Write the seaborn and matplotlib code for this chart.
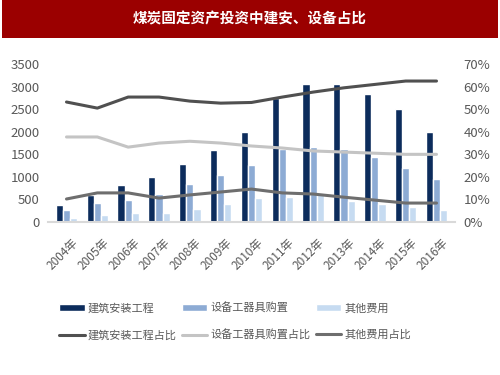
import matplotlib
matplotlib.use("Agg")
import matplotlib.pyplot as plt
from matplotlib.patches import Rectangle
from matplotlib.lines import Line2D
from matplotlib.ticker import FuncFormatter
from matplotlib.transforms import ScaledTranslation
import pandas as pd
import seaborn as sns

years = ["2004年", "2005年", "2006年", "2007年", "2008年", "2009年", "2010年",
         "2011年", "2012年", "2013年", "2014年", "2015年", "2016年"]
build = [370, 600, 810, 1000, 1280, 1600, 2000, 2750, 3050, 3070, 2830, 2500, 2000]
equip = [260, 430, 480, 630, 850, 1050, 1260, 1620, 1660, 1610, 1430, 1200, 960]
other = [80, 160, 190, 190, 280, 400, 540, 550, 630, 470, 410, 330, 260]
build_pct = [53.2, 50.5, 55.4, 55.4, 53.6, 52.7, 53.0, 55.4, 57.6, 59.5, 61.0, 62.5, 62.5]
equip_pct = [37.7, 37.7, 33.2, 35.0, 35.8, 35.0, 33.7, 32.8, 31.5, 31.0, 30.5, 30.0, 30.0]
other_pct = [10.2, 12.9, 12.9, 10.6, 12.0, 13.3, 14.6, 12.9, 12.4, 11.0, 9.7, 8.4, 8.4]

bar_names = ["建筑安装工程", "设备工器具购置", "其他费用"]
line_names = ["建筑安装工程占比", "设备工器具购置占比", "其他费用占比"]
bar_colors = ["#0c2c5c", "#8dabd4", "#c6dbf1"]
line_colors = ["#505050", "#c4c4c4", "#6e6e6e"]

sns.set_theme(style="white")
plt.rcParams["font.family"] = ["Noto Sans CJK SC", "DejaVu Sans"]

bars = pd.DataFrame({"year": years * 3,
                     "value": build + equip + other,
                     "kind": [n for n in bar_names for _ in years]})
lines = pd.DataFrame({"year": years * 3,
                      "pct": build_pct + equip_pct + other_pct,
                      "kind": [n for n in line_names for _ in years]})

fig = plt.figure(figsize=(5, 3.75), dpi=100)
fig.patches.append(Rectangle((0.004, 0.898), 0.992, 0.102, transform=fig.transFigure,
                             facecolor="#9b0000", edgecolor="none"))
fig.text(0.5, 0.951, "煤炭固定资产投资中建安、设备占比", color="white",
         fontsize=10.5, fontweight="bold", ha="center", va="center")

ax = fig.add_axes([0.096, 0.408, 0.814, 0.421])
sns.barplot(data=bars, x="year", y="value", hue="kind", palette=bar_colors,
            width=0.7, ax=ax, legend=False, saturation=1)
ax.set_ylim(0, 3500)
ax.set_yticks(range(0, 3501, 500))
ax.set_xlabel("")
ax.set_ylabel("")

ax2 = ax.twinx()
sns.lineplot(data=lines, x="year", y="pct", hue="kind", palette=line_colors,
             linewidth=2.2, ax=ax2, legend=False, sort=False)
ax2.set_ylim(0, 70)
ax2.set_yticks(range(0, 71, 10))
ax2.yaxis.set_major_formatter(FuncFormatter(lambda v, p: f"{int(v)}%"))
ax2.set_ylabel("")

for a in (ax, ax2):
    for s in a.spines.values():
        s.set_visible(False)
    a.tick_params(axis="y", length=0, labelsize=9.5, labelcolor="#595959", pad=6)
ax.spines["bottom"].set_visible(True)
ax.spines["bottom"].set_color("#d9d9d9")
ax.spines["bottom"].set_linewidth(1.5)
ax.tick_params(axis="x", length=0, labelsize=8.5, labelcolor="#595959", pad=10)
ax.set_xlim(-0.6, 12.6)
shift = ScaledTranslation(5 / 100, 0, fig.dpi_scale_trans)
for lbl in ax.get_xticklabels():
    lbl.set_rotation(45)
    lbl.set_ha("right")
    lbl.set_rotation_mode("anchor")
    lbl.set_transform(lbl.get_transform() + shift)

handles = []
labels = []
for i in range(3):
    handles.append(Rectangle((0, 0), 1, 1, facecolor=bar_colors[i]))
    labels.append(bar_names[i])
    handles.append(Line2D([0], [0], color=line_colors[i], linewidth=2.2))
    labels.append(line_names[i])
fig.legend(handles, labels, ncol=3, loc="center", bbox_to_anchor=(0.47, 0.142),
           frameon=False, fontsize=8, labelcolor="#595959", handlelength=2.3,
           handleheight=0.55, handletextpad=0.25, columnspacing=0.5, labelspacing=1.45)

fig.savefig("out.png", dpi=100)
